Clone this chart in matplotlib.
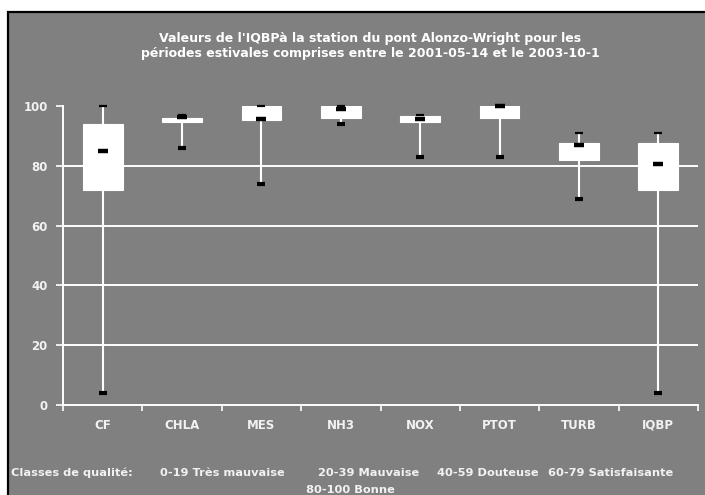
import matplotlib
matplotlib.use("Agg")
import matplotlib.pyplot as plt
from matplotlib.patches import Rectangle

# Statistiques estivales par paramètre (min, quartiles, médiane, max)
categories = ["CF", "CHLA", "MES", "NH3", "NOX", "PTOT", "TURB", "IQBP"]
minimums = [4, 86, 74, 94, 83, 83, 69, 4]
q1 = [72, 94.5, 95.3, 96.1, 94.5, 96, 82, 72]
medianes = [85, 96.4, 95.6, 99, 95.7, 100, 87, 80.5]
q3 = [94, 96.1, 100, 100, 96.7, 100, 87.5, 87.5]
maximums = [100, 97, 100, 100, 97, 100, 91, 91]

titre = ("Valeurs de l'IQBPà la station du pont Alonzo-Wright pour les\n"
         "périodes estivales comprises entre le 2001-05-14 et le 2003-10-1")
classes = ["Classes de qualité:", "0-19 Très mauvaise", "20-39 Mauvaise",
           "40-59 Douteuse", "60-79 Satisfaisante"]
classes_x = [11, 160, 318, 437, 548]
classes2 = "80-100 Bonne"

plt.rcParams["font.family"] = ["DejaVu Sans"]
plt.rcParams["font.weight"] = "bold"

W, H = 705, 495
fig = plt.figure(figsize=(W / 100, H / 100), dpi=100, facecolor="white")

# fond gris avec cadre noir
fond = Rectangle((8 / W, -0.1), 1.2, 1 - 12 / H + 0.1, transform=fig.transFigure,
                 facecolor="#808080", edgecolor="black", linewidth=1.6, zorder=0)
fig.patches.append(fond)

ax = fig.add_axes([63 / W, 1 - 405 / H, (698 - 63) / W, (405 - 106) / H])
ax.set_facecolor("none")
ax.set_zorder(2)

x = list(range(1, len(categories) + 1))
blanc = "white"

ax.vlines(x, minimums, maximums, color=blanc, linewidth=1.5, zorder=3)
hauteurs = [b - a for a, b in zip(q1, q3)]
ax.bar(x, hauteurs, bottom=q1, width=0.5, color=blanc, edgecolor=blanc,
       linewidth=0.8, zorder=4)
ax.plot(x, medianes, linestyle="none", marker="_", markersize=7,
        markeredgewidth=3.2, color="black", zorder=5, clip_on=False)
ax.plot(x, minimums, linestyle="none", marker="_", markersize=6,
        markeredgewidth=3.0, color="black", zorder=5, clip_on=False)
ax.plot(x, maximums, linestyle="none", marker="_", markersize=6,
        markeredgewidth=1.6, color="black", zorder=5, clip_on=False)

ax.set_xlim(0.5, len(categories) + 0.5)
ax.set_ylim(0, 100)
ax.set_yticks([0, 20, 40, 60, 80, 100])
ax.yaxis.grid(True, color=blanc, linewidth=1.4)
ax.get_ygridlines()[-1].set_visible(False)
ax.get_ygridlines()[0].set_visible(False)
ax.set_axisbelow(True)

ax.set_xticks(x)
ax.set_xticklabels(categories)
ax.set_xticks([i + 0.5 for i in range(len(categories) + 1)], minor=True)
ax.tick_params(axis="x", which="major", length=0, pad=10, labelsize=8.5,
               labelcolor="#f2f2f2")
ax.tick_params(axis="x", which="minor", length=4, width=1.2, color=blanc,
               direction="out")
ax.tick_params(axis="y", length=5, width=1.2, color=blanc, pad=6,
               labelsize=8.5, labelcolor="#f2f2f2")

for cote in ["top", "right"]:
    ax.spines[cote].set_visible(False)
for cote in ["left", "bottom"]:
    ax.spines[cote].set_color(blanc)
    ax.spines[cote].set_linewidth(1.4)

fig.text(370 / W, 1 - 46 / H, titre, ha="center", va="center", color=blanc,
         fontsize=9, fontweight="bold", linespacing=1.25)
for texte, px in zip(classes, classes_x):
    fig.text(px / W, 1 - 476 / H, texte, ha="left", va="baseline",
             color="#f2f2f2", fontsize=8.2, fontweight="bold")
fig.text(350 / W, 1 - 493 / H, classes2, ha="center", va="baseline",
         color="#f2f2f2", fontsize=8.2, fontweight="bold")

fig.savefig("out.png", dpi=100, facecolor="white")
